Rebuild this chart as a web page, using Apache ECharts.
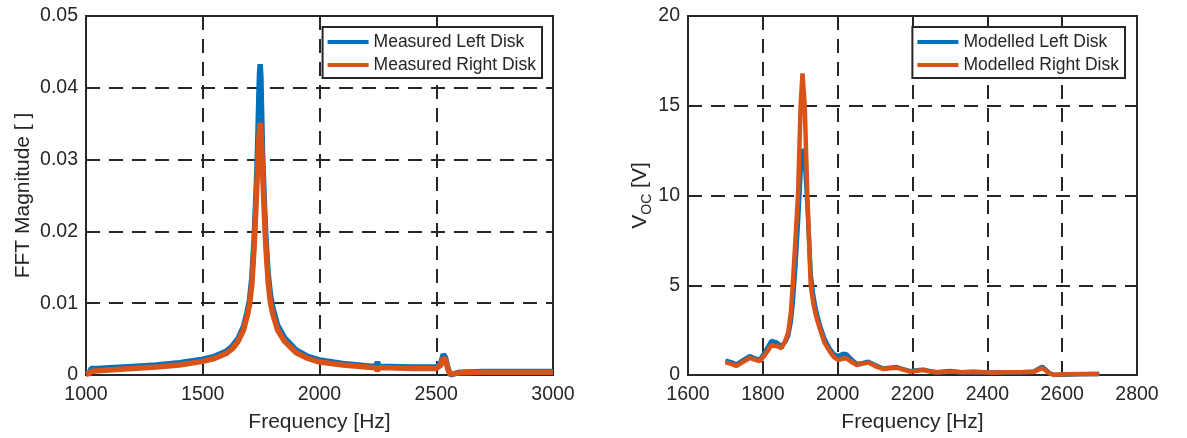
<!DOCTYPE html>
<html>
<head>
<meta charset="utf-8">
<script src="https://cdn.jsdelivr.net/npm/echarts@6.0.0/dist/echarts.min.js"></script>
<style>
  html, body { margin: 0; padding: 0; background: #fff; }
  #main { width: 1187px; height: 438px; }
</style>
</head>
<body>
<div id="main"></div>
<script>
// left subplot: measured FFT magnitude
var freqMeas = [1000, 1015, 1022, 1050, 1100, 1200, 1300, 1400, 1500, 1550,
  1600, 1625, 1650, 1675, 1690, 1700, 1710, 1720, 1730, 1735,
  1740, 1743, 1746, 1749, 1752, 1756, 1760, 1765, 1770, 1780,
  1790, 1800, 1820, 1850, 1900, 1950, 2000, 2100, 2200, 2240,
  2248, 2255, 2300, 2400, 2500, 2520, 2530, 2540, 2550, 2560,
  2600, 2700, 2800, 2900, 3000];
var measLeft = [0.0002, 0.0003, 0.0009, 0.0009, 0.0010, 0.0012, 0.0014, 0.0017, 0.0022, 0.0026,
  0.0033, 0.0040, 0.0050, 0.0068, 0.0088, 0.0104, 0.0135, 0.0190, 0.0270, 0.0320,
  0.0385, 0.0420, 0.0433, 0.0415, 0.0370, 0.0310, 0.0275, 0.0232, 0.0195, 0.0142,
  0.0112, 0.0094, 0.0070, 0.0052, 0.0035, 0.0026, 0.0021, 0.0016, 0.0013, 0.0012,
  0.0018, 0.0012, 0.0012, 0.0011, 0.0011, 0.0017, 0.0029, 0.0024, 0.0010, 0.0000,
  0.0004, 0.0005, 0.0005, 0.0005, 0.0005];
var measRight = [0.0001, 0.0002, 0.0005, 0.0006, 0.0007, 0.0009, 0.0011, 0.0014, 0.0019, 0.0023,
  0.0030, 0.0036, 0.0046, 0.0063, 0.0082, 0.0097, 0.0125, 0.0178, 0.0250, 0.0290,
  0.0325, 0.0343, 0.0351, 0.0343, 0.0322, 0.0285, 0.0255, 0.0215, 0.0180, 0.0130,
  0.0100, 0.0085, 0.0063, 0.0047, 0.0031, 0.0023, 0.0018, 0.0014, 0.0011, 0.0010,
  0.0006, 0.0010, 0.0010, 0.0009, 0.0009, 0.0014, 0.0024, 0.0021, 0.0008, 0.0001,
  0.0003, 0.0004, 0.0004, 0.0004, 0.0004];

// right subplot: modelled open circuit voltage
var freqMod = [1700, 1715, 1729, 1745, 1765, 1780, 1792, 1805, 1823, 1838,
  1850, 1860, 1868, 1875, 1880, 1887, 1894, 1901, 1906, 1912,
  1919, 1928, 1935, 1942, 1952, 1965, 1979, 1990, 2002, 2015,
  2024, 2035, 2051, 2065, 2082, 2100, 2122, 2140, 2158, 2175,
  2194, 2212, 2229, 2245, 2265, 2283, 2301, 2330, 2363, 2390,
  2417, 2450, 2490, 2524, 2537, 2547, 2556, 2565, 2578, 2600,
  2650, 2699];
var modLeft = [0.80, 0.72, 0.58, 0.80, 1.05, 0.92, 0.85, 1.25, 1.90, 1.80,
  1.60, 1.85, 2.20, 3.00, 4.00, 6.00, 8.50, 11.3, 12.6, 12.0,
  9.5, 5.6, 4.4, 3.6, 2.8, 2.0, 1.45, 1.15, 1.05, 1.18,
  1.15, 0.90, 0.62, 0.66, 0.74, 0.55, 0.36, 0.40, 0.44, 0.33,
  0.21, 0.26, 0.30, 0.22, 0.15, 0.19, 0.22, 0.16, 0.18, 0.16,
  0.14, 0.16, 0.16, 0.19, 0.35, 0.46, 0.30, 0.12, 0.01, 0.02,
  0.04, 0.05];
var modRight = [0.70, 0.62, 0.50, 0.70, 0.95, 0.85, 0.78, 1.10, 1.65, 1.60,
  1.50, 1.90, 2.40, 3.50, 5.00, 7.50, 10.0, 15.0, 16.8, 15.0,
  10.0, 5.0, 4.0, 3.3, 2.6, 1.8, 1.3, 1.0, 0.83, 0.92,
  0.93, 0.75, 0.56, 0.62, 0.69, 0.50, 0.33, 0.38, 0.41, 0.30,
  0.19, 0.24, 0.28, 0.20, 0.14, 0.17, 0.20, 0.15, 0.17, 0.15,
  0.13, 0.15, 0.15, 0.17, 0.30, 0.39, 0.25, 0.10, 0.00, 0.04,
  0.05, 0.06];

var BLUE = '#0072BD', ORANGE = '#D95319', INK = '#262626';
var FONT = "'Liberation Sans', Arial, sans-serif";

function pairs(xs, ys) {
  return xs.map(function (x, i) { return [x, ys[i]]; });
}

function plain(v) { return String(v); }

function xAx(idx, min, max, step) {
  return {
    gridIndex: idx, type: 'value', min: min, max: max, interval: step,
    name: 'Frequency [Hz]', nameLocation: 'middle', nameGap: 37,
    nameTextStyle: { fontSize: 21, color: INK, fontFamily: FONT },
    axisLine: { show: false },
    axisTick: { show: true, inside: true, length: 6, lineStyle: { color: INK, width: 2 } },
    axisLabel: { fontSize: 19.5, color: INK, fontFamily: FONT, margin: 10, formatter: plain },
    splitLine: { show: true, lineStyle: { color: INK, width: 2, type: [14, 9] } }
  };
}

function yAx(idx, min, max, step, name, gap, rich) {
  return {
    gridIndex: idx, type: 'value', min: min, max: max, interval: step,
    name: name, nameLocation: 'middle', nameGap: gap,
    nameTextStyle: { fontSize: 21, color: INK, fontFamily: FONT, rich: rich },
    axisLine: { show: false },
    axisTick: { show: true, inside: true, length: 6, lineStyle: { color: INK, width: 2 } },
    axisLabel: { fontSize: 19.5, color: INK, fontFamily: FONT, margin: 8, formatter: plain },
    splitLine: { show: true, lineStyle: { color: INK, width: 2, type: [14, 9] } }
  };
}

function legendBox(names, right) {
  return {
    data: names, orient: 'vertical', right: right, top: 27,
    icon: 'rect', itemWidth: 41, itemHeight: 4, itemGap: 3,
    padding: [5, 6, 3, 5],
    backgroundColor: '#fff', borderColor: INK, borderWidth: 2,
    selectedMode: false,
    textStyle: { fontSize: 17.5, color: INK, fontFamily: FONT, lineHeight: 20 }
  };
}

function line(name, xi, data, color, w) {
  return {
    name: name, type: 'line', xAxisIndex: xi, yAxisIndex: xi,
    data: data, showSymbol: false, symbol: 'none',
    lineStyle: { color: color, width: w }, itemStyle: { color: color }
  };
}

var chart = echarts.init(document.getElementById('main'));
chart.setOption({
  animation: false,
  backgroundColor: '#fff',
  grid: [
    { left: 86, right: 634, top: 16, bottom: 61, show: true, borderColor: INK, borderWidth: 2 },
    { left: 688, right: 50, top: 16, bottom: 61, show: true, borderColor: INK, borderWidth: 2 }
  ],
  xAxis: [xAx(0, 1000, 3000, 500), xAx(1, 1600, 2800, 200)],
  yAxis: [
    yAx(0, 0, 0.05, 0.01, 'FFT Magnitude [ ]', 52),
    yAx(1, 0, 20, 5, 'V{sub|OC} [V]', 31, { sub: { fontSize: 14, color: INK, fontFamily: FONT, padding: [14, 0, 0, 0] } })
  ],
  legend: [
    legendBox(['Measured Left Disk', 'Measured Right Disk'], 645),
    legendBox(['Modelled Left Disk', 'Modelled Right Disk'], 62)
  ],
  series: [
    line('Measured Left Disk', 0, pairs(freqMeas, measLeft), BLUE, 5.5),
    line('Measured Right Disk', 0, pairs(freqMeas, measRight), ORANGE, 5.5),
    line('Modelled Left Disk', 1, pairs(freqMod, modLeft), BLUE, 4.5),
    line('Modelled Right Disk', 1, pairs(freqMod, modRight), ORANGE, 4.5)
  ]
});
</script>
</body>
</html>
